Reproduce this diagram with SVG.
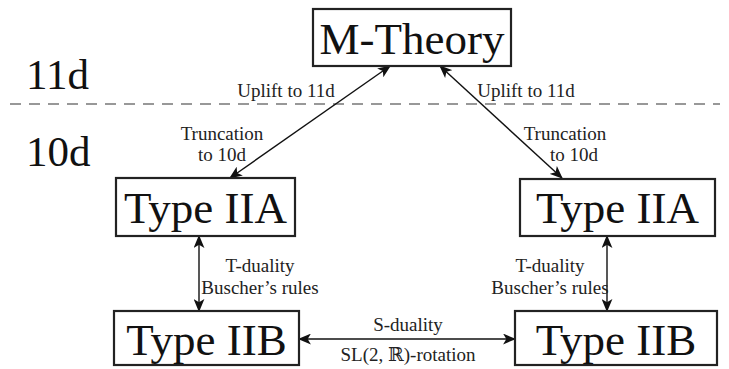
<svg xmlns="http://www.w3.org/2000/svg" width="729" height="369" viewBox="0 0 729 369">
<style>
.box{fill:#fff;stroke:#222;stroke-width:2.2}
text{font-family:"Liberation Serif","Times New Roman","DejaVu Serif",serif}
.big{font-size:45px;fill:#111;text-anchor:middle}
.dim{font-size:43px;fill:#111}
.lbl{font-size:19px;fill:#222;text-anchor:middle}
.con{stroke:#111;stroke-width:1.4;fill:none}
</style>
<defs>
<marker id="ah" viewBox="0 0 12 10" refX="11" refY="5" markerWidth="13" markerHeight="11" markerUnits="userSpaceOnUse" orient="auto-start-reverse">
<path d="M0,0 L12,5 L0,10 L3,5 Z" fill="#111"/>
</marker>
</defs>
<text class="dim" x="26" y="89">11d</text>
<text class="dim" x="26" y="166">10d</text>
<line x1="10" y1="104" x2="720" y2="104" stroke="#333" stroke-width="1.2" stroke-dasharray="11,8"/>
<g id="connectors">
<line class="con" x1="230" y1="178" x2="390" y2="66" marker-start="url(#ah)" marker-end="url(#ah)"/>
<line class="con" x1="562" y1="178" x2="440" y2="66" marker-start="url(#ah)" marker-end="url(#ah)"/>
<line class="con" x1="199" y1="236" x2="199" y2="311" marker-start="url(#ah)" marker-end="url(#ah)"/>
<line class="con" x1="607" y1="236" x2="607" y2="311" marker-start="url(#ah)" marker-end="url(#ah)"/>
<line class="con" x1="299" y1="339" x2="515" y2="339" marker-start="url(#ah)" marker-end="url(#ah)"/>
<text class="lbl" x="286" y="97">Uplift to 11d</text>
<text class="lbl" x="526" y="97">Uplift to 11d</text>
<text class="lbl" x="222" y="140">Truncation</text>
<text class="lbl" x="222" y="161">to 10d</text>
<text class="lbl" x="565" y="140">Truncation</text>
<text class="lbl" x="574" y="161">to 10d</text>
<text class="lbl" x="260" y="272">T-duality</text>
<text class="lbl" x="260" y="294">Buscher’s rules</text>
<text class="lbl" x="550" y="272">T-duality</text>
<text class="lbl" x="550" y="294">Buscher’s rules</text>
<text class="lbl" x="408" y="331">S-duality</text>
<text class="lbl" x="408" y="361">SL(2, ℝ)-rotation</text>
</g>
<g id="m-theory"><rect class="box" x="313" y="9" width="198" height="57"/><text class="big" x="412" y="54">M-Theory</text></g>
<g id="iia-left"><rect class="box" x="116" y="178" width="179" height="58"/><text class="big" x="205.5" y="223">Type IIA</text></g>
<g id="iia-right"><rect class="box" x="520" y="179" width="195" height="57"/><text class="big" x="617.5" y="223">Type IIA</text></g>
<g id="iib-left"><rect class="box" x="114" y="311" width="185" height="54"/><text class="big" x="206.5" y="355">Type IIB</text></g>
<g id="iib-right"><rect class="box" x="515" y="311" width="202" height="54"/><text class="big" x="616" y="355">Type IIB</text></g>
</svg>
